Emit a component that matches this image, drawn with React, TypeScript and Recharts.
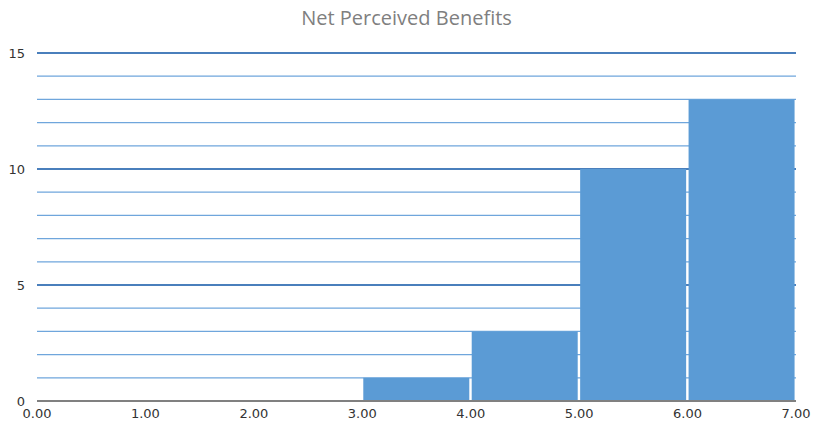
import { BarChart, Bar, XAxis, YAxis, CartesianGrid } from "recharts";

// Histogram bins (midpoints) and counts
const binMids = [0.5, 1.5, 2.5, 3.5, 4.5, 5.5, 6.5];
const counts = [0, 0, 0, 1, 3, 10, 13];
const xTicks = [0, 1, 2, 3, 4, 5, 6, 7];
const minorTicks = [1, 2, 3, 4, 6, 7, 8, 9, 11, 12, 13, 14];
const majorTicks = [0, 5, 10, 15];

const data = binMids.map((mid, i) => ({ mid, count: counts[i] }));

const tickFont = { fill: "#333", fontSize: 13, fontFamily: "'DejaVu Sans', sans-serif" };

// minor gridlines placed through the y scale
const minorCoords = ({ yAxis, offset }: any) =>
  minorTicks.map((t) =>
    yAxis && typeof yAxis.scale === "function"
      ? yAxis.scale(t)
      : offset.top + offset.height * (1 - t / 15)
  );

export default function App() {
  return (
    <div style={{ position: "absolute", left: 0, top: 0, width: 813, height: 427, background: "#fff" }}>
      <div
        style={{
          position: "absolute",
          top: 4,
          width: 813,
          textAlign: "center",
          fontFamily: "'Open Sans', sans-serif",
          fontSize: 20,
          color: "#7f7f7f",
        }}
      >
        Net Perceived Benefits
      </div>
      <BarChart width={813} height={427} data={data} margin={{ top: 53, right: 17, left: 0, bottom: 0 }}>
        <CartesianGrid
          vertical={false}
          horizontalCoordinatesGenerator={minorCoords}
          stroke="#6fa6dc"
          strokeWidth={1.3}
        />
        <CartesianGrid vertical={false} stroke="#4a7fbc" strokeWidth={1.8} />
        <XAxis
          dataKey="mid"
          type="number"
          domain={[0, 7]}
          ticks={xTicks}
          tickFormatter={(v: number) => v.toFixed(2)}
          tickLine={false}
          axisLine={{ stroke: "#808080", strokeWidth: 2 }}
          tick={tickFont}
          tickMargin={2}
          height={26}
          interval={0}
        />
        <YAxis
          domain={[0, 15]}
          ticks={majorTicks}
          tickLine={false}
          axisLine={false}
          width={37}
          tick={tickFont}
          tickMargin={6}
        />
        <Bar dataKey="count" fill="#5b9bd5" barSize={106} isAnimationActive={false} />
      </BarChart>
    </div>
  );
}
